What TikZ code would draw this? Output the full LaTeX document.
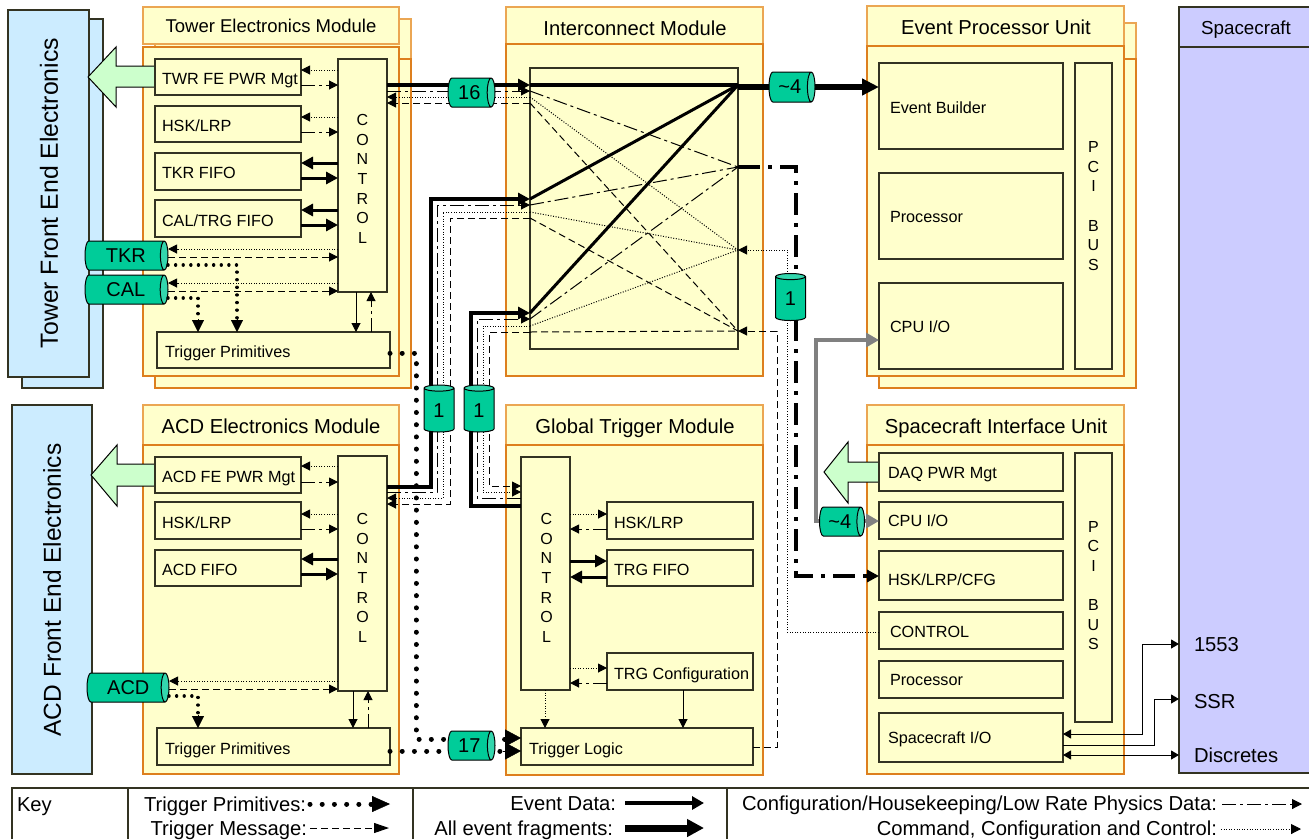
\documentclass[tikz,border=0pt]{standalone}
\usepackage{fontspec}
\setmainfont{Liberation Sans}
\usetikzlibrary{arrows.meta,shapes.geometric}
\definecolor{cream}{HTML}{FFFFCC}
\definecolor{orng}{HTML}{DD7F1E}
\definecolor{orngl}{HTML}{EBA653}
\definecolor{blu}{HTML}{CCECFF}
\definecolor{purp}{HTML}{CCCCFF}
\definecolor{gbody}{HTML}{00CC99}
\definecolor{gend}{HTML}{33D6AD}
\definecolor{lgreen}{HTML}{CCFFCC}
\definecolor{ink}{HTML}{333322}
\newcommand{\fsz}[1]{\fontsize{#1}{#1}\selectfont}
\tikzset{
  base/.style={rectangle,inner sep=0pt,outer sep=0pt},
  modbody/.style={base,draw=orng,fill=cream,line width=1.2pt},
  modhead/.style={base,draw=orngl,fill=cream,line width=1.2pt},
  ibox/.style={base,draw=ink,fill=cream,line width=1.2pt},
  stxt/.style={inner sep=0pt,outer sep=0pt,align=center,font=\fsz{16},execute at begin node={\baselineskip=19.6pt}},
  febox/.style={base,draw=ink,fill=blu,line width=1.2pt},
  scbox/.style={base,draw=ink,fill=purp,line width=1.4pt},
  lbl/.style={inner sep=0pt,outer sep=0pt,anchor=base west,font=\fsz{16.2},yshift=-5.8pt},
  ttl/.style={inner sep=0pt,outer sep=0pt,anchor=base,font=\fsz{20.2},yshift=-7.2pt},
  ttls/.style={inner sep=0pt,outer sep=0pt,anchor=base,font=\fsz{18.5},yshift=-6.6pt},
  sclbl/.style={inner sep=0pt,outer sep=0pt,anchor=base west,font=\fsz{20.2},yshift=-7.2pt},
  keytxt/.style={inner sep=0pt,outer sep=0pt,anchor=base east,font=\fsz{20.2},yshift=-7.2pt},
  cyl/.style={cylinder,draw=black,line width=1pt,cylinder uses custom fill,cylinder body fill=gbody,cylinder end fill=gend,inner sep=0pt,outer sep=0pt,font=\fsz{20},anchor=shape center},
  hcyl/.style={cyl,shape border rotate=0,shape aspect=0.55,minimum width=29pt},
  vcyl/.style={cyl,shape border rotate=90,shape aspect=0.55,minimum width=30pt,minimum height=47pt},
  greenarrow/.style={draw=black,fill=lgreen,line width=1pt,line join=miter},
  big/.style={-{Triangle[length=12pt,width=12pt]}},
  small/.style={-{Triangle[length=9pt,width=9pt]}},
  dataln/.style={line width=3pt,big},
  fragln/.style={line width=4pt,big},
  cfgln/.style={line width=1pt,dash pattern=on 14pt off 4pt on 3pt off 4pt,small},
  cmdln/.style={line width=1pt,dash pattern=on 1pt off 1.6pt,small},
  msgln/.style={line width=1pt,dash pattern=on 7pt off 4pt,small},
  dotsln/.style={line width=5pt,line cap=round,dash pattern=on 0.01pt off 12.2pt},
  finedots/.style={line width=3.4pt,line cap=round,dash pattern=on 0.01pt off 7.6pt},
  tipbig/.style={-{Triangle[length=16pt,width=17pt]}},
  tipmid/.style={-{Triangle[length=12pt,width=12pt]}},
  wire/.style={line width=1pt,draw=black,{Triangle[length=8pt,width=9pt]}-{Triangle[length=8pt,width=9pt]}},
  wireone/.style={line width=1pt,draw=black,-{Triangle[length=8pt,width=9pt]}},
  keyline/.style={draw=ink,line width=1.4pt},
}
\newcommand{\rb}[7]{\node[#1,minimum width={(#5-#3)*1pt},minimum height={(#6-#4)*1pt}] (#2) at ({(#3+#5)/2},{(#4+#6)/2}) {#7};}
\newcommand{\lb}[4]{\node[lbl] (#1) at (#2,#3) {#4};}
\begin{document}
\begin{tikzpicture}[x=1pt,y=-1pt,line join=miter]
\useasboundingbox (0,0) rectangle (1309,839);

% front-end panels
\rb{febox}{tfeb}{22}{19}{103}{388}{}
\rb{febox}{tfe}{8}{10}{89}{377}{}
\node[rotate=90,inner sep=0pt,font=\fsz{24.8}] (tfet) at (49,193) {Tower Front End Electronics};
\rb{febox}{afe}{12}{405}{92}{774}{}
\node[rotate=90,inner sep=0pt,font=\fsz{24.5}] (afet) at (52,590) {ACD Front End Electronics};

% spacecraft
\rb{scbox}{sch}{1179}{7}{1320}{47}{}
\rb{scbox}{sc}{1179}{47}{1320}{773}{}
\node[ttl,font=\fsz{18.8},yshift=0.4pt] (scht) at (1246,28) {Spacecraft};
\node[sclbl] (s1553) at (1194,644) {1553};
\node[sclbl] (sssr) at (1194,701) {SSR};
\node[sclbl] (sdis) at (1194,755) {Discretes};

% modules
\rb{modhead}{tmhb}{155}{19}{411}{59}{}
\rb{modbody}{tmb}{155}{59}{411}{388}{}
\rb{modhead}{tmh}{143}{7}{399}{44}{}
\rb{modbody}{tm}{143}{47}{399}{376}{}
\rb{modhead}{amh}{143}{405}{399}{445}{}
\rb{modbody}{am}{143}{445}{399}{774}{}
\rb{modhead}{imh}{506}{7}{763}{44}{}
\rb{modbody}{im}{506}{44}{763}{376}{}
\rb{modhead}{gmh}{506}{405}{763}{445}{}
\rb{modbody}{gm}{506}{445}{763}{775}{}
\rb{modhead}{emhb}{879}{23}{1136}{59}{}
\rb{modbody}{emb}{879}{59}{1136}{388}{}
\rb{modhead}{emh}{867}{6}{1124}{46}{}
\rb{modbody}{em}{867}{46}{1124}{376}{}
\rb{modhead}{smh}{867}{405}{1124}{445}{}
\rb{modbody}{sm}{867}{445}{1124}{774}{}
\node[ttls] (tmt) at (271,26) {Tower Electronics Module};
\node[ttl] (amt) at (271,426) {ACD Electronics Module};
\node[ttl] (imt) at (635,28) {Interconnect Module};
\node[ttl] (gmt) at (635,426) {Global Trigger Module};
\node[ttl] (emt) at (996,27) {Event Processor Unit};
\node[ttl] (smt) at (996,426) {Spacecraft Interface Unit};

% green power arrows
\draw[greenarrow] (155,66) -- (116,66) -- (116,47) -- (88,77) -- (116,107) -- (116,87) -- (155,87);
\draw[greenarrow] (155,464) -- (117,464) -- (117,445) -- (91,475) -- (117,506) -- (117,486) -- (155,486);
\draw[greenarrow] (879,462) -- (848,462) -- (848,442) -- (824,472) -- (848,503) -- (848,482) -- (879,482);

% tower boxes
\rb{ibox}{tpw}{155}{59}{301}{95}{}
\rb{ibox}{thsk}{155}{106}{301}{142}{}
\rb{ibox}{ttkr}{155}{153}{301}{190}{}
\rb{ibox}{tcal}{155}{200}{301}{237}{}
\rb{ibox}{tc}{338}{59}{387}{292}{}
\node[stxt] (tct) at (362.5,179) {C\\O\\N\\T\\R\\O\\L};
\rb{ibox}{ttp}{157}{332}{390}{368}{}
\lb{tpwt}{162}{79}{TWR FE PWR Mgt}
\lb{thskt}{162}{126}{HSK/LRP}
\lb{ttkrt}{162}{173}{TKR FIFO}
\lb{tcalt}{162}{221}{CAL/TRG FIFO}
\lb{ttpt}{165}{352}{Trigger Primitives}

% ACD boxes
\rb{ibox}{apw}{155}{457}{301}{493}{}
\rb{ibox}{ahsk}{155}{502}{301}{539}{}
\rb{ibox}{afi}{155}{550}{301}{586}{}
\rb{ibox}{ac}{338}{456}{387}{691}{}
\node[stxt] (act) at (362.5,578) {C\\O\\N\\T\\R\\O\\L};
\rb{ibox}{atp}{157}{728}{390}{765}{}
\lb{apwt}{162}{477}{ACD FE PWR Mgt}
\lb{ahskt}{162}{523}{HSK/LRP}
\lb{afit}{162}{570}{ACD FIFO}
\lb{atpt}{165}{749}{Trigger Primitives}

% interconnect box
\rb{ibox}{ix}{530}{68}{738}{349}{}

% GT boxes
\rb{ibox}{gc}{521}{457}{570}{690}{}
\node[stxt] (gct) at (546.5,578) {C\\O\\N\\T\\R\\O\\L};
\rb{ibox}{ghsk}{607}{502}{753}{539}{}
\rb{ibox}{gfi}{607}{550}{753}{586}{}
\rb{ibox}{gcf}{607}{653}{753}{690}{}
\rb{ibox}{gtl}{521}{728}{753}{765}{}
\lb{ghskt}{614}{523}{HSK/LRP}
\lb{gfit}{614}{570}{TRG FIFO}
\lb{gcft}{614}{674}{TRG Configuration}
\lb{gtlt}{529}{749}{Trigger Logic}

% EPU boxes
\rb{ibox}{eeb}{879}{63}{1063}{149}{}
\rb{ibox}{epr}{879}{173}{1063}{259}{}
\rb{ibox}{ecp}{879}{283}{1063}{369}{}
\rb{ibox}{epci}{1075}{63}{1112}{369}{}
\node[stxt] (epcit) at (1093.5,206) {P\\C\\I\\\mbox{}\\B\\U\\S};
\lb{eebt}{890}{108}{Event Builder}
\lb{eprt}{890}{217}{Processor}
\lb{ecpt}{890}{327}{CPU I/O}

% SIU boxes
\rb{ibox}{sda}{879}{453}{1063}{491}{}
\rb{ibox}{scp}{879}{502}{1063}{539}{}
\rb{ibox}{shk}{879}{551}{1063}{600}{}
\rb{ibox}{sct}{879}{612}{1063}{649}{}
\rb{ibox}{spr}{879}{661}{1063}{698}{}
\rb{ibox}{sio}{879}{713}{1063}{762}{}
\rb{ibox}{spci}{1075}{453}{1112}{722}{}
\node[stxt] (spcit) at (1093.5,585.5) {P\\C\\I\\\mbox{}\\B\\U\\S};
\lb{sdat}{888}{473}{DAQ PWR Mgt}
\lb{scpt}{888}{521}{CPU I/O}
\lb{shkt}{888}{580}{HSK/LRP/CFG}
\lb{sctt}{890}{632}{CONTROL}
\lb{sprt}{890}{680}{Processor}
\lb{siot}{888}{738}{Spacecraft I/O}

% tower internal connectors
\draw[cmdln] (tc.west|-0,70) -- (tpw.east|-0,70);
\draw[cfgln] (tpw.east|-0,85) -- (tc.west|-0,85);
\draw[cmdln] (tc.west|-0,117) -- (thsk.east|-0,117);
\draw[cfgln] (thsk.east|-0,132) -- (tc.west|-0,132);
\draw[dataln] (tc.west|-0,163) -- (ttkr.east|-0,163);
\draw[dataln] (ttkr.east|-0,178) -- (tc.west|-0,178);
\draw[dataln] (tc.west|-0,210) -- (tcal.east|-0,210);
\draw[dataln] (tcal.east|-0,225) -- (tc.west|-0,225);
\draw[line width=1pt,small] (tc.south-|356,0) -- (ttp.north-|356,0);
\draw[cfgln] (ttp.north-|371,0) -- (tc.south-|371,0);

% ACD internal connectors
\draw[cmdln] (ac.west|-0,466) -- (apw.east|-0,466);
\draw[cfgln] (apw.east|-0,482) -- (ac.west|-0,482);
\draw[cmdln] (ac.west|-0,514) -- (ahsk.east|-0,514);
\draw[cfgln] (ahsk.east|-0,529) -- (ac.west|-0,529);
\draw[dataln] (ac.west|-0,559) -- (afi.east|-0,559);
\draw[dataln] (afi.east|-0,574) -- (ac.west|-0,574);
\draw[line width=1pt,small] (ac.south-|353,0) -- (atp.north-|353,0);
\draw[cfgln] (atp.north-|368,0) -- (ac.south-|368,0);

% GT internal connectors
\draw[cmdln] (gc.east|-0,514) -- (ghsk.west|-0,514);
\draw[cfgln] (ghsk.west|-0,529) -- (gc.east|-0,529);
\draw[dataln] (gc.east|-0,561) -- (gfi.west|-0,561);
\draw[dataln] (gfi.west|-0,577) -- (gc.east|-0,577);
\draw[cmdln] (gc.east|-0,668) -- (gcf.west|-0,668);
\draw[cfgln] (gcf.west|-0,683) -- (gc.east|-0,683);
\draw[cmdln] (gc.south-|545,0) -- (gtl.north-|545,0);
\draw[line width=1pt,small] (gcf.south-|683,0) -- (gtl.north-|683,0);

% interconnect mesh
\draw[cfgln,-] (ix.west|-0,91) -- (ix.east|-0,167);
\draw[cfgln,-] (ix.west|-0,205) -- (ix.east|-0,167);
\draw[cfgln,-] (ix.west|-0,319) -- (ix.east|-0,167);
\draw[cmdln,-] (ix.west|-0,97) -- (ix.east|-0,250);
\draw[cmdln,-] (ix.west|-0,212) -- (ix.east|-0,250);
\draw[cmdln,-] (ix.west|-0,326) -- (ix.east|-0,250);
\draw[msgln,-] (ix.west|-0,103) -- (ix.east|-0,331);
\draw[msgln,-] (ix.west|-0,218) -- (ix.east|-0,331);
\draw[msgln,-] (ix.west|-0,332) -- (ix.east|-0,331);
\draw[line width=3pt] (ix.west|-0,199) -- (ix.east|-0,85);
\draw[line width=3pt] (ix.west|-0,313) -- (ix.east|-0,85);

% tower <-> interconnect
\draw[fragln] (tc.east|-0,85) -- (ix.west|-0,85);
\draw[cfgln] (tc.east|-0,91) -- (ix.west|-0,91);
\draw[cmdln] (ix.west|-0,97) -- (tc.east|-0,97);
\draw[msgln] (ix.west|-0,103) -- (tc.east|-0,103);

% ACD <-> interconnect
\draw[fragln] (ac.east|-0,487) -- (431,487) -- (431,199) -- (ix.west|-0,199);
\draw[cfgln] (ac.east|-0,492) -- (437,492) -- (437,205) -- (ix.west|-0,205);
\draw[cmdln] (ix.west|-0,212) -- (443,212) -- (443,498) -- (ac.east|-0,498);
\draw[msgln] (ix.west|-0,218) -- (450,218) -- (450,504) -- (ac.east|-0,504);

% GT <-> interconnect
\draw[fragln] (gc.west|-0,506) -- (471,506) -- (471,313) -- (ix.west|-0,313);
\draw[cfgln] (gc.west|-0,498) -- (477,498) -- (477,319) -- (ix.west|-0,319);
\draw[cmdln] (ix.west|-0,326) -- (483,326) -- (483,492) -- (gc.west|-0,492);
\draw[msgln] (ix.west|-0,332) -- (489,332) -- (489,486) -- (gc.west|-0,486);

% interconnect out
\draw[line width=4pt] (ix.west|-0,85) -- (ix.east|-0,85);
\draw[line width=6pt,-{Triangle[length=17pt,width=16pt]}] (ix.east|-0,87) -- (eeb.west|-0,87);
\draw[line width=4pt,dash pattern=on 22pt off 8pt on 4pt off 8pt,-{Triangle[length=12pt,width=12pt]}] (ix.east|-0,167) -- (796,167) -- (796,576) -- (shk.west|-0,576);
\draw[cmdln] (sct.west|-0,632) -- (787,632) -- (787,250) -- (ix.east|-0,250);
\draw[msgln] (gtl.east|-0,747) -- (777,747) -- (777,331) -- (ix.east|-0,331);

% grey CPU link
\draw[draw=gray,line width=4.5pt,fill=none,{Triangle[length=13pt,width=14pt,gray]}-{Triangle[length=13pt,width=14pt,gray]}] (ecp.west|-0,340) -- (816,340) -- (816,521) -- (scp.west|-0,521);

% spacecraft wires
\draw[wire] (sio.east|-0,734) -- (1142,734) -- (1142,644) -- (sc.west|-0,644);
\draw[wireone] (sio.east|-0,745) -- (1154,745) -- (1154,699) -- (sc.west|-0,699);
\draw[wire] (sio.east|-0,755) -- (sc.west|-0,755);

% cylinders
\node[hcyl,minimum height=83pt] (ctkr) at (126.5,255.5) {\hspace{3pt}TKR};
\node[hcyl,minimum height=83pt] (ccal) at (126.5,289.5) {\hspace{3pt}CAL};
\node[hcyl,minimum height=82pt] (cacd) at (128,687.5) {\hspace{5pt}ACD};

% front-end links
\draw[cmdln] (tc.west|-0,249) -- (ctkr.east|-0,249);
\draw[msgln] (ctkr.east|-0,257) -- (tc.west|-0,257);
\draw[cmdln] (tc.west|-0,283) -- (ccal.east|-0,283);
\draw[msgln] (ccal.east|-0,291) -- (tc.west|-0,291);
\draw[cmdln] (ac.west|-0,681) -- (cacd.east|-0,681);
\draw[msgln] (cacd.east|-0,689) -- (ac.west|-0,689);

% trigger primitive dots
\draw[finedots] (ctkr.east|-0,265) -- (237,265) -- (237,320);
\draw[tipmid] (237,319) -- (ttp.north-|237,0);
\draw[finedots] (ccal.east|-0,298) -- (198,298) -- (198,320);
\draw[tipmid] (198,319) -- (ttp.north-|198,0);
\draw[finedots] (cacd.east|-0,696) -- (198,696) -- (198,716);
\draw[tipmid] (198,715) -- (atp.north-|198,0);
\draw[dotsln] (ttp.east|-0,353) -- (416,353) -- (416,739) -- (505,739);
\draw[dotsln] (atp.east|-0,751) -- (505,751);
\draw[tipbig] (503,738) -- (gtl.west|-0,738);
\draw[tipbig] (503,751) -- (gtl.west|-0,751);

% link cylinders
\node[hcyl,minimum height=47pt] (c16) at (471.5,92.5) {16};
\node[hcyl,minimum height=46pt,minimum width=30pt] (c4a) at (792,87) {\fsz{20}\textasciitilde 4};
\node[hcyl,minimum height=47pt] (c17) at (471.5,745.5) {17};
\node[hcyl,minimum height=45pt] (c4b) at (842,521.5) {\fsz{20}\textasciitilde 4};
\node[vcyl] (c1a) at (439,408.5) {\raisebox{-3pt}{1}};
\node[vcyl] (c1b) at (479,408.5) {\raisebox{-3pt}{1}};
\node[vcyl] (c1c) at (790.5,297) {\raisebox{-3pt}{1}};

% key
\draw[keyline] (12,839) -- (12,788) -- (1309,788);
\draw[keyline] (128,788) -- (128,839);
\draw[keyline] (413,788) -- (413,839);
\draw[keyline] (727,788) -- (727,839);
\node[keytxt,anchor=base west] (kk) at (17,804) {Key};
\node[keytxt] (k1) at (306,804) {Trigger Primitives:};
\node[keytxt] (k2) at (307,828) {Trigger Message:};
\node[keytxt] (k3) at (616,803) {Event Data:};
\node[keytxt] (k4) at (613,828) {All event fragments:};
\node[keytxt] (k5) at (1217,803) {Configuration/Housekeeping/Low Rate Physics Data:};
\node[keytxt] (k6) at (1217,828) {Command, Configuration and Control:};
\coordinate (s1) at (310,804);
\coordinate (e1) at (390,804);
\coordinate (s2) at (310,828);
\coordinate (e2) at (389,828);
\coordinate (s3) at (625,803);
\coordinate (e3) at (704,803);
\coordinate (s4) at (625,828);
\coordinate (e4) at (704,828);
\coordinate (s5) at (1222,804);
\coordinate (e5) at (1302,804);
\coordinate (s6) at (1221,829);
\coordinate (e6) at (1301,829);
\draw[dotsln] (s1) -- (373,804);
\draw[-{Triangle[length=18pt,width=16pt]}] (372,804) -- (e1);
\draw[msgln,-{Triangle[length=15pt,width=10pt]}] (s2) -- (e2);
\draw[line width=4pt,-{Triangle[length=12pt,width=13pt]}] (s3) -- (e3);
\draw[line width=7pt,-{Triangle[length=17pt,width=17pt]}] (s4) -- (e4);
\draw[cfgln,-{Triangle[length=10pt,width=10pt]}] (s5) -- (e5);
\draw[cmdln,-{Triangle[length=10pt,width=10pt]}] (s6) -- (e6);
\end{tikzpicture}
\end{document}
